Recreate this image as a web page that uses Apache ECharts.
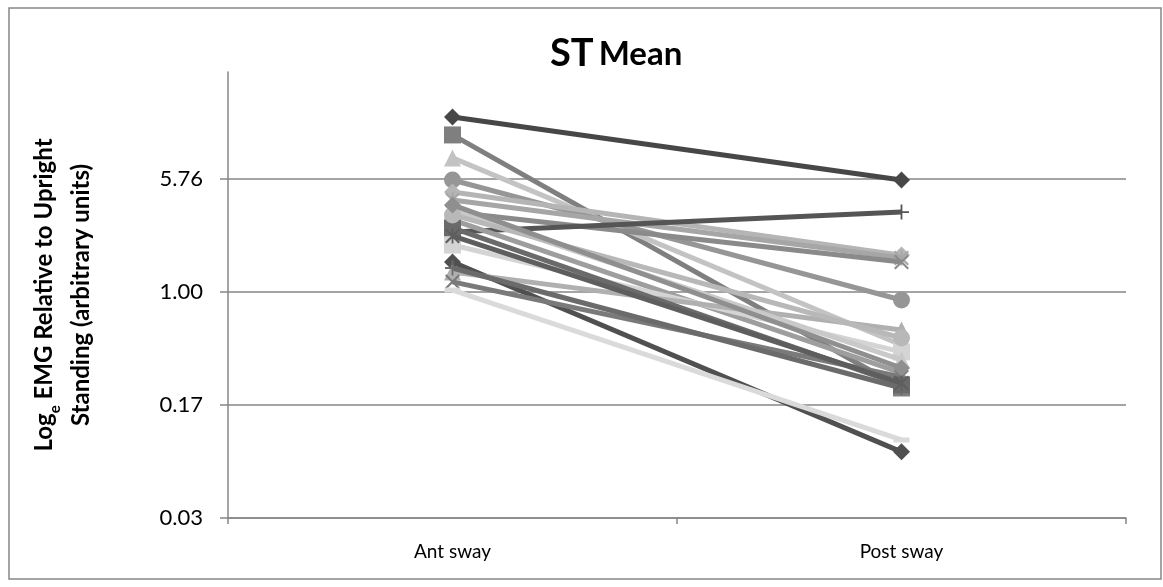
<!DOCTYPE html>
<html>
<head>
<meta charset="utf-8">
<script src="https://cdn.jsdelivr.net/npm/echarts@6/dist/echarts.min.js"></script>
<style>
  html, body { margin: 0; padding: 0; background: #ffffff; }
  #chart { width: 1163px; height: 587px; }
</style>
</head>
<body>
<div id="chart"></div>
<script>
// Sway conditions on the category axis
const categories = ['Ant sway', 'Post sway'];

// EMG relative to upright standing, one entry per subject
const antSway  = [15.06, 11.39, 7.98, 5.67, 4.71, 4.16, 3.45, 2.53, 3.05, 2.07,
                  1.59, 1.36, 1.17, 1.03, 2.70, 3.56, 1.45, 3.30, 3.85, 2.38];
const postSway = [5.67, 0.226, 0.44, 0.883, 1.77, 1.69, 1.59, 3.45, 0.285, 0.395,
                  0.084, 0.555, 0.268, 0.101, 0.237, 0.349, 0.226, 0.49, 0.308, 0.244];

// Gridline values on the log axis (powers of 5.76) and the axis top
const yTicks = [0.030141, 0.173611, 1, 5.76];
const yMax = 30.2;

// Marker shapes (Excel-like) and grey shades per subject
const SYM = {
  diamond: 'diamond',
  square: 'rect',
  triangle: 'triangle',
  circle: 'circle',
  cross: 'path://M0,1 L1,0 L5,4 L9,0 L10,1 L6,5 L10,9 L9,10 L5,6 L1,10 L0,9 L4,5 Z',
  star: 'path://M0,1 L1,0 L4.4,3.4 L4.4,0 L5.6,0 L5.6,3.4 L9,0 L10,1 L6,5 L10,9 L9,10 L5.6,6.6 L5.6,10 L4.4,10 L4.4,6.6 L1,10 L0,9 L4,5 Z',
  plus: 'path://M4.4,0 L5.6,0 L5.6,4.4 L10,4.4 L10,5.6 L5.6,5.6 L5.6,10 L4.4,10 L4.4,5.6 L0,5.6 L0,4.4 L4.4,4.4 Z',
  dash: 'rect'
};
const markers = ['diamond', 'square', 'triangle', 'circle', 'diamond', 'star', 'cross', 'plus', 'cross', 'square',
                 'diamond', 'triangle', 'cross', 'dash', 'square', 'triangle', 'plus', 'circle', 'diamond', 'star'];
const shades  = ['#474747', '#7f7f7f', '#c3c3c3', '#969696', '#b5b5b5', '#a6a6a6', '#8a8a8a', '#555555', '#9e9e9e', '#d4d4d4',
                 '#505050', '#b0b0b0', '#7a7a7a', '#dadada', '#6a6a6a', '#c9c9c9', '#6b6b6b', '#b8b8b8', '#8f8f8f', '#5e5e5e'];

const FONT = 'Lato, "Open Sans", sans-serif';
const GRID = '#868686';

function markerSize(m) {
  if (m === 'dash') return [16, 5];
  if (m === 'cross' || m === 'star' || m === 'plus') return 15;
  return 17;
}

const series = antSway.map(function (a, i) {
  const m = markers[i];
  return {
    type: 'line',
    name: 'Subject ' + (i + 1),
    data: [a, postSway[i]],
    symbol: SYM[m],
    symbolSize: markerSize(m),
    showSymbol: true,
    lineStyle: { color: shades[i], width: 5 },
    itemStyle: { color: shades[i] },
    emphasis: { disabled: true },
    animation: false,
    z: 2 + i
  };
});

const chart = echarts.init(document.getElementById('chart'), null, { renderer: 'canvas' });
chart.setOption({
  backgroundColor: '#ffffff',
  animation: false,
  title: {
    text: '{a|ST} {b|Mean}',
    left: 545,
    top: 30,
    textStyle: {
      rich: {
        a: { fontFamily: FONT, fontWeight: 'bold', fontSize: 38, color: '#000' },
        b: { fontFamily: FONT, fontWeight: 'bold', fontSize: 33, color: '#000' }
      }
    }
  },
  graphic: [{
    type: 'rect',
    shape: { x: 9, y: 8, width: 1152, height: 571 },
    style: { fill: 'none', stroke: GRID, lineWidth: 1.5 },
    silent: true
  }],
  grid: { left: 228, right: 37, top: 72, bottom: 69 },
  xAxis: {
    type: 'category',
    data: categories,
    boundaryGap: true,
    axisLine: { lineStyle: { color: GRID, width: 1.5 } },
    axisTick: { show: true, length: 6, lineStyle: { color: GRID, width: 1.5 } },
    axisLabel: { fontFamily: FONT, fontSize: 19, color: '#000', margin: 24 },
    splitLine: { show: false }
  },
  yAxis: {
    type: 'log',
    logBase: 5.76,
    min: yTicks[0],
    max: yMax,
    name: '{t|Log}{s|e}{t| EMG Relative to Upright}\n{t|Standing (arbitrary units)}',
    nameLocation: 'middle',
    nameGap: 128,
    nameTextStyle: {
      rich: {
        t: { fontFamily: FONT, fontWeight: 'bold', fontSize: 24, color: '#000', lineHeight: 37 },
        s: { fontFamily: FONT, fontWeight: 'bold', fontSize: 15, color: '#000', lineHeight: 37, verticalAlign: 'bottom', padding: [14, 0, 0, 0] }
      }
    },
    axisLine: { show: true, lineStyle: { color: GRID, width: 1.5 } },
    axisTick: { show: true, length: 8, customValues: yTicks, lineStyle: { color: GRID, width: 1.5 } },
    axisLabel: {
      fontFamily: FONT, fontSize: 22, color: '#000', margin: 25,
      customValues: yTicks,
      formatter: function (v) { return v.toFixed(2); }
    },
    splitLine: { show: true, lineStyle: { color: GRID, width: 1.5 } }
  },
  series: series
});
</script>
</body>
</html>
